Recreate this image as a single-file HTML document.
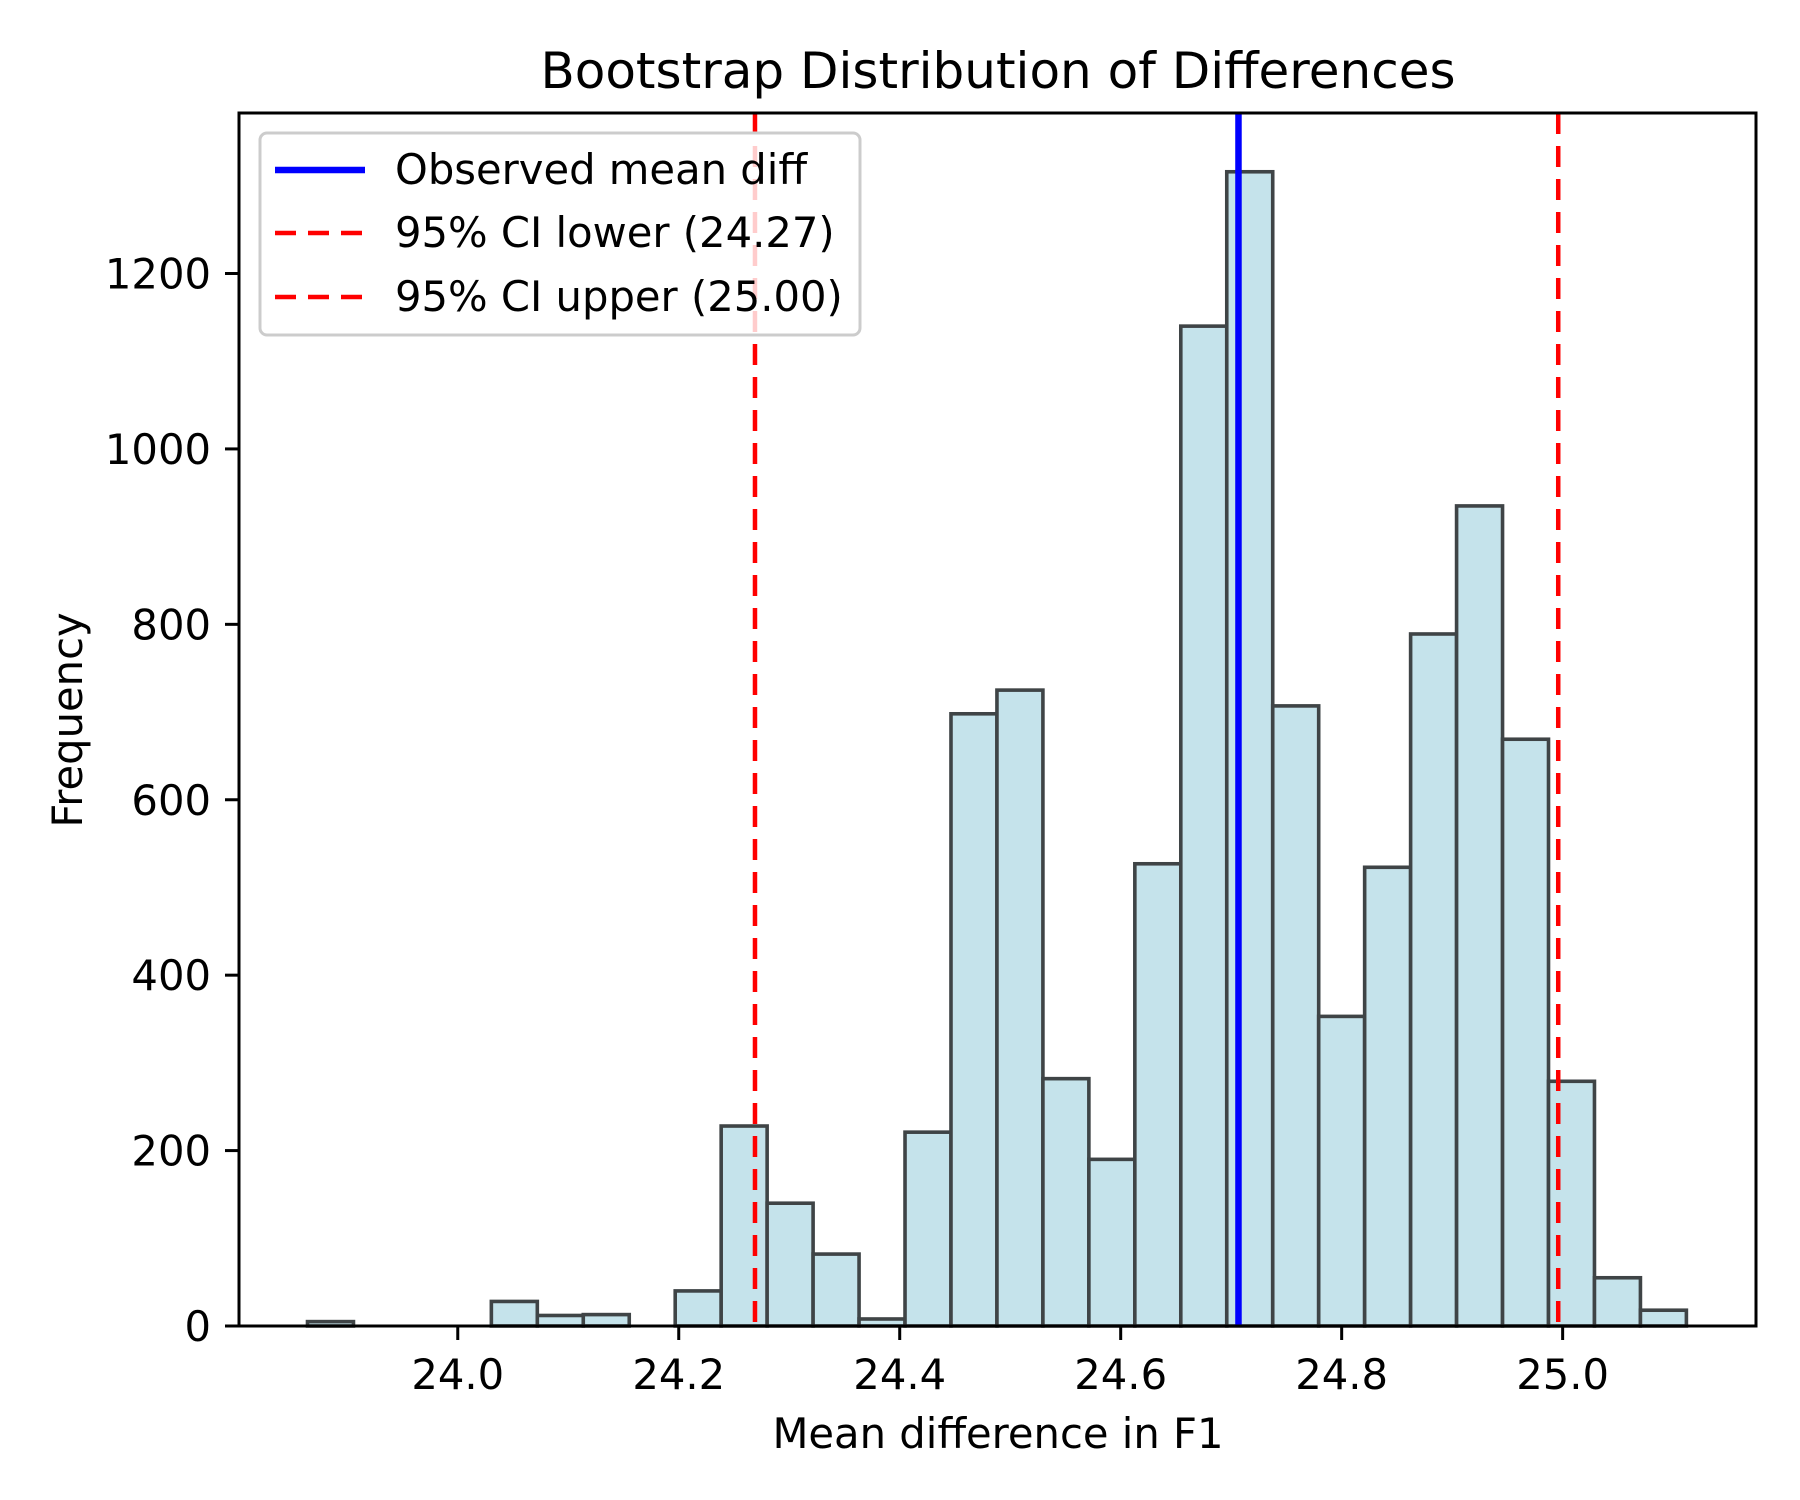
<!DOCTYPE html>
<html><head><meta charset="utf-8"><style>
html,body{margin:0;padding:0;background:#fff}
svg{display:block;font-family:"DejaVu Sans","Liberation Sans",sans-serif}
</style></head><body>
<svg id="chart" width="1800" height="1500" viewBox="0 0 1800 1500" xmlns="http://www.w3.org/2000/svg">
<rect width="1800" height="1500" fill="#fff"/>
<text x="998" y="88" font-size="50" text-anchor="middle">Bootstrap Distribution of Differences</text>
<g id="bars"></g>
<g id="lines"></g>
<rect x="239" y="113" width="1517" height="1213" fill="none" stroke="#000" stroke-width="3"/>
<g id="xticks"></g>
<g id="yticks"></g>
<text x="998" y="1448" font-size="41.7" text-anchor="middle">Mean difference in F1</text>
<text transform="translate(82,720) rotate(-90)" font-size="41.7" text-anchor="middle">Frequency</text>
<g>
<rect x="260" y="133" width="600" height="202" rx="7" fill="#fff" fill-opacity="0.8" stroke="#ccc" stroke-width="3"/>
<g>
<line x1="275" y1="170" x2="365" y2="170" stroke="#0000ff" stroke-width="6.5"/>
<text x="395" y="184" font-size="41.7">Observed mean diff</text></g>
<g>
<line x1="275" y1="233" x2="365" y2="233" stroke="#ff0000" stroke-width="4.5" stroke-dasharray="21,12"/>
<text x="395" y="247" font-size="41.7">95% CI lower (24.27)</text></g>
<g>
<line x1="275" y1="297" x2="365" y2="297" stroke="#ff0000" stroke-width="4.5" stroke-dasharray="21,12"/>
<text x="395" y="311" font-size="41.7">95% CI upper (25.00)</text></g>
</g>
</svg>
<script>
const binStart = 23.864;
const binWidth = 0.0416;
const counts = [5,0,0,0,28,12,13,0,40,228,140,82,8,221,698,725,282,190,527,1140,1316,707,353,523,789,935,669,279,55,18];
const xTicks = [24.0,24.2,24.4,24.6,24.8,25.0];
const xTickLabels = ["24.0","24.2","24.4","24.6","24.8","25.0"];
const yTicks = [0,200,400,600,800,1000,1200];
const observedMean = 24.7066;
const ciLower = 24.269;
const ciUpper = 24.996;

const NS = "http://www.w3.org/2000/svg";
const X0=239,X1=1756,Y0=1326,Y1=113;
const xMin=23.802,xMax=25.175,yMax=1383;
const xs = v => X0+(v-xMin)/(xMax-xMin)*(X1-X0);
const ys = v => Y0-(v/yMax)*(Y0-Y1);
function mk(tag, attrs, parent){const e=document.createElementNS(NS,tag);for(const k in attrs)e.setAttribute(k,attrs[k]);parent.appendChild(e);return e;}

const bars=document.getElementById('bars');
counts.forEach((c,i)=>{
  const a=xs(binStart+i*binWidth), b=xs(binStart+(i+1)*binWidth);
  const r=mk('rect',{x:a,y:ys(c),width:b-a,height:Y0-ys(c),fill:'#c5e3eb',stroke:'#3f4446','stroke-width':3.6},bars);
  
  
});
const lines=document.getElementById('lines');
const lo=mk('line',{x1:xs(ciLower),x2:xs(ciLower),y1:Y1,y2:Y0,stroke:'#ff0000','stroke-width':4.5,'stroke-dasharray':'21,12'},lines);


const up=mk('line',{x1:xs(ciUpper),x2:xs(ciUpper),y1:Y1,y2:Y0,stroke:'#ff0000','stroke-width':4.5,'stroke-dasharray':'21,12'},lines);


const ob=mk('line',{x1:xs(observedMean),x2:xs(observedMean),y1:Y1,y2:Y0,stroke:'#0000ff','stroke-width':6.5},lines);



const xt=document.getElementById('xticks');
xTicks.forEach((v,i)=>{
  const g=mk('g',{},xt);
  
  
  mk('line',{x1:xs(v),x2:xs(v),y1:Y0,y2:Y0+14,stroke:'#000','stroke-width':3},g);
  const t=mk('text',{x:xs(v),y:Y0+63,'font-size':41.7,'text-anchor':'middle'},g);
  t.textContent=xTickLabels[i];
});
const yt=document.getElementById('yticks');
yTicks.forEach(v=>{
  const g=mk('g',{},yt);
  
  
  mk('line',{x1:X0-14,x2:X0,y1:ys(v),y2:ys(v),stroke:'#000','stroke-width':3},g);
  const t=mk('text',{x:X0-28,y:ys(v)+15,'font-size':41.7,'text-anchor':'end'},g);
  t.textContent=String(v);
});
</script>
</body></html>
